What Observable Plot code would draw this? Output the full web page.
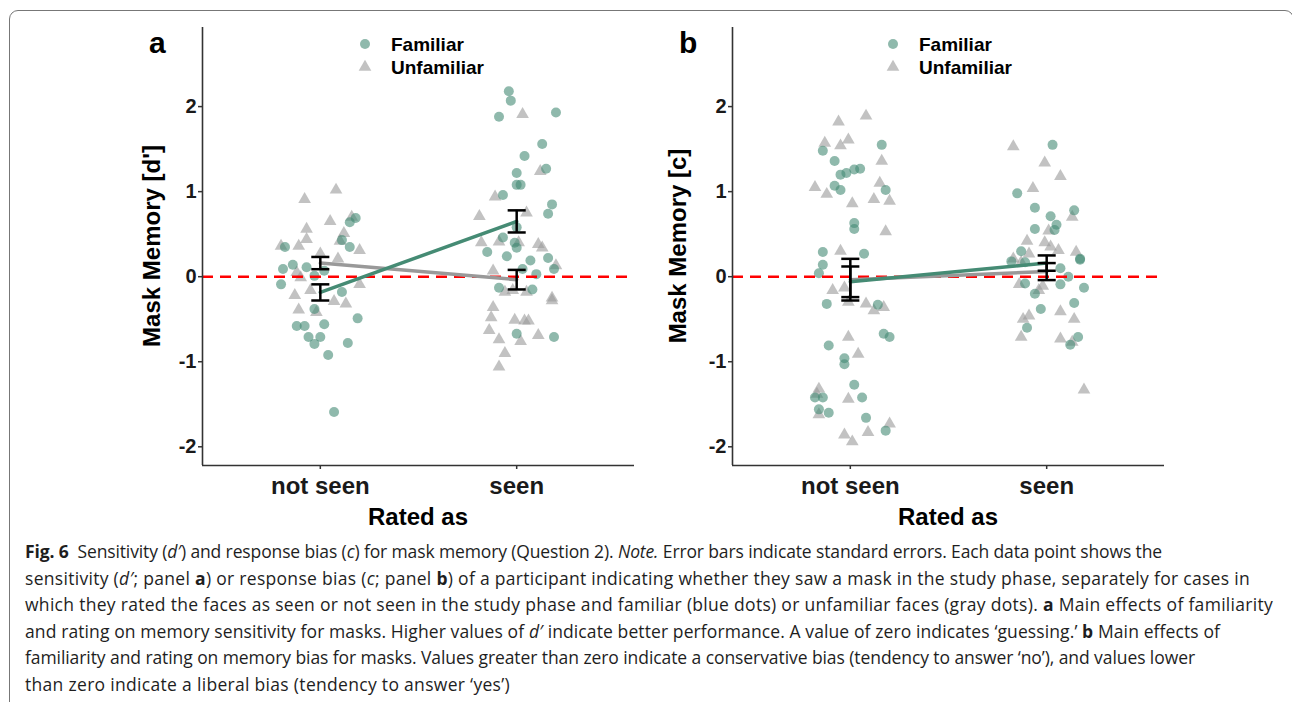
<!DOCTYPE html>
<html>
<head>
<meta charset="utf-8">
<script src="https://cdn.jsdelivr.net/npm/d3@7"></script>
<script src="https://cdn.jsdelivr.net/npm/@observablehq/plot@0.6"></script>
<style>
  html, body { margin: 0; padding: 0; background: #fff; }
  body { width: 1292px; height: 702px; overflow: hidden; position: relative; font-family: "Liberation Sans", Arial, sans-serif; }
  .abs { position: absolute; }
  #box { position: absolute; left: 9px; top: 10px; width: 1285px; height: 720px; box-sizing: border-box; border: 1.5px solid #777; border-radius: 9px; }
  .plotwrap svg text { font-weight: 700; fill: #1a1a1a; }
  .ytitle { position: absolute; font-weight: 700; font-size: 24px; color: #000; white-space: nowrap; transform: translate(-50%, -50%) rotate(-90deg); }
  .xtitle { position: absolute; font-weight: 700; font-size: 24px; color: #000; white-space: nowrap; transform: translateX(-50%); }
  .letter { position: absolute; font-weight: 700; font-size: 30px; color: #000; }
  .legend { position: absolute; }
  .legend text { font-family: "Liberation Sans", Arial, sans-serif; font-weight: 700; font-size: 19px; fill: #000; }
  #caption { position: absolute; left: 25px; top: 538px; font-family: "Open Sans", "Noto Sans", sans-serif; font-size: 17.5px; line-height: 26.5px; color: #1e1e1e; }
  #caption div { white-space: nowrap; display: block; width: max-content; }
</style>
</head>
<body>
<div id="box"></div>

<script>
// ---------------- data ----------------
const ratings = ["not seen", "seen"];
const groups = ["Familiar", "Unfamiliar"];

// Panel a (d'): each point = [jitter (category units), value]
const aFamNotSeen = [[-0.18,0.35],[0.15,0.35],[0.15,0.64],[0.18,0.69],[0.11,0.43],[-0.19,0.09],[-0.14,0.14],[-0.07,0.11],[0.02,0.07],[-0.03,0.01],[-0.20,-0.09],[0.11,-0.18],[-0.03,-0.38],[-0.12,-0.58],[-0.08,-0.58],[0.02,-0.56],[0.19,-0.49],[-0.06,-0.71],[0.0,-0.71],[-0.03,-0.79],[0.14,-0.78],[0.04,-0.92],[0.07,-1.59]];
const aUnfNotSeen = [[-0.08,0.91],[0.08,1.02],[0.05,0.65],[-0.07,0.56],[-0.07,0.44],[0.12,0.51],[0.16,0.70],[0.10,0.42],[-0.20,0.36],[-0.11,0.36],[0.20,0.31],[0.0,0.27],[0.09,0.21],[-0.12,0.05],[-0.10,-0.01],[0.20,-0.09],[-0.13,-0.22],[0.07,-0.29],[0.13,-0.32],[-0.11,-0.39],[-0.02,-0.42],[-0.05,-0.16]];
const aFamSeen = [[-0.04,2.18],[-0.03,2.07],[-0.09,1.88],[0.20,1.93],[0.13,1.56],[0.04,1.42],[0.15,1.27],[0.0,1.22],[0.0,1.08],[0.02,1.08],[-0.07,0.96],[0.18,0.85],[0.16,0.74],[0.0,0.58],[-0.07,0.46],[-0.01,0.40],[0.0,0.34],[-0.15,0.29],[-0.05,0.24],[0.07,0.19],[0.16,0.22],[0.19,0.09],[0.03,0.09],[0.10,0.03],[-0.09,-0.13],[0.08,-0.15],[0.0,-0.67],[0.19,-0.71]];
const aUnfSeen = [[0.03,1.91],[0.12,1.24],[-0.11,0.94],[-0.19,0.71],[0.05,0.75],[-0.18,0.40],[-0.09,0.41],[0.01,0.40],[0.11,0.38],[0.13,0.34],[-0.12,0.07],[0.20,0.13],[-0.06,-0.18],[0.05,-0.18],[-0.02,-0.16],[0.18,-0.25],[0.18,-0.28],[-0.12,-0.36],[-0.13,-0.48],[-0.01,-0.51],[0.04,-0.52],[0.06,-0.52],[-0.14,-0.63],[-0.09,-0.74],[0.02,-0.76],[0.11,-0.69],[-0.06,-0.90],[-0.09,-1.06]];
const aFamMean = [-0.185, 0.65];
const aFamSE   = [0.095, 0.13];
const aUnfMean = [0.16, -0.035];
const aUnfSE   = [0.072, 0.115];

// Panel b (c)
const bFamNotSeen = [[-0.14,1.48],[0.16,1.55],[-0.08,1.36],[-0.05,1.20],[-0.02,1.22],[0.02,1.26],[0.05,1.27],[-0.08,1.07],[-0.05,1.02],[0.18,1.02],[0.02,0.63],[0.02,0.56],[-0.14,0.29],[0.07,0.27],[-0.14,0.14],[-0.16,0.04],[-0.12,-0.32],[0.14,-0.33],[0.17,-0.67],[0.20,-0.71],[-0.11,-0.81],[-0.03,-0.96],[-0.03,-1.03],[0.02,-1.27],[-0.18,-1.42],[-0.14,-1.42],[0.06,-1.42],[-0.16,-1.56],[-0.11,-1.60],[0.08,-1.66],[0.18,-1.81]];
const bUnfNotSeen = [[-0.06,1.82],[0.08,1.89],[-0.13,1.57],[-0.05,1.54],[-0.01,1.61],[0.16,1.36],[-0.18,1.05],[-0.12,0.97],[0.15,1.10],[0.01,0.86],[0.12,0.91],[0.20,0.89],[0.18,0.53],[-0.05,0.30],[-0.09,-0.16],[-0.03,-0.13],[-0.01,-0.30],[0.08,-0.32],[0.12,-0.40],[0.17,-0.36],[-0.01,-0.71],[0.04,-0.91],[-0.16,-1.32],[-0.17,-1.38],[-0.16,-1.62],[-0.01,-1.44],[0.20,-1.73],[-0.03,-1.86],[0.01,-1.94],[0.09,-1.83]];
const bFamSeen = [[0.03,1.55],[-0.15,0.98],[-0.06,0.81],[0.02,0.71],[0.14,0.78],[0.05,0.61],[0.04,0.55],[-0.06,0.56],[-0.13,0.30],[-0.18,0.18],[-0.11,0.17],[0.17,0.21],[0.17,0.20],[0.07,0.10],[0.11,0.0],[0.07,-0.09],[-0.11,-0.08],[-0.06,-0.20],[0.19,-0.13],[0.14,-0.31],[-0.03,-0.38],[-0.10,-0.60],[0.16,-0.71],[0.12,-0.80]];
const bUnfSeen = [[-0.17,1.53],[-0.01,1.34],[0.07,1.18],[-0.07,1.04],[0.13,0.70],[0.01,0.54],[-0.10,0.42],[-0.01,0.40],[0.02,0.35],[0.06,0.31],[0.15,0.29],[-0.17,0.21],[-0.13,0.17],[-0.14,-0.09],[-0.02,-0.11],[-0.04,-0.16],[0.07,-0.41],[0.14,-0.50],[-0.12,-0.50],[-0.09,-0.46],[-0.13,-0.71],[0.07,-0.73],[0.13,-0.77],[0.19,-1.33],[-0.09,0.27]];
const bFamMean = [-0.06, 0.16];
const bFamSE   = [0.18, 0.09];
const bUnfMean = [-0.035, 0.06];
const bUnfSE   = [0.245, 0.10];

const yTicks = [-2, -1, 0, 1, 2];
const yLabels = ["Mask Memory [d']", "Mask Memory [c]"];
const xTitle = "Rated as";
const panelLetters = ["a", "b"];

// ---------------- scales & styles ----------------
const X_DOMAIN = [0.4, 2.6];
const Y_DOMAIN = [-2.22, 2.93];
const GREEN = "#458B74";
const GRAY = "#999999";
const AXIS = "#333333";
const FONT = "'Liberation Sans', Arial, sans-serif";
const CAP = 0.046; // error bar cap half-width, in category units

function rows(arr, cat) { return arr.map(([j, v]) => ({x: cat + j, y: v})); }
function meanRows(m, se, group) { return m.map((v, i) => ({x: i + 1, y: v, lo: v - se[i], hi: v + se[i], group})); }

function makePanel({famNS, famS, unfNS, unfS, famM, famSE, unfM, unfSE, width, marginLeft}) {
  const fam = rows(famNS, 1).concat(rows(famS, 2));
  const unf = rows(unfNS, 1).concat(rows(unfS, 2));
  const fm = meanRows(famM, famSE, groups[0]);
  const um = meanRows(unfM, unfSE, groups[1]);
  const all = fm.concat(um);
  return Plot.plot({
    width, height: 540,
    marginLeft, marginRight: 6, marginTop: 27, marginBottom: 75,
    x: {domain: X_DOMAIN, axis: null},
    y: {domain: Y_DOMAIN, axis: null},
    style: {fontFamily: FONT, background: "transparent", overflow: "visible", color: AXIS},
    marks: [
      Plot.dot(unf, {x: "x", y: "y", symbol: "triangle", r: 4.7, fill: GRAY, fillOpacity: 0.6, stroke: "none"}),
      Plot.dot(fam, {x: "x", y: "y", symbol: "circle", r: 5, fill: GREEN, fillOpacity: 0.6, stroke: "none"}),
      Plot.ruleY([0], {stroke: "#ff0000", strokeWidth: 2.5, strokeDasharray: "11,7"}),
      Plot.line(um, {x: "x", y: "y", stroke: GRAY, strokeWidth: 3.5}),
      Plot.line(fm, {x: "x", y: "y", stroke: GREEN, strokeWidth: 3.5}),
      Plot.ruleX(all, {x: "x", y1: "lo", y2: "hi", stroke: "#000", strokeWidth: 2.5}),
      Plot.link(all, {x1: d => d.x - CAP, x2: d => d.x + CAP, y1: "hi", y2: "hi", stroke: "#000", strokeWidth: 2.5}),
      Plot.link(all, {x1: d => d.x - CAP, x2: d => d.x + CAP, y1: "lo", y2: "lo", stroke: "#000", strokeWidth: 2.5}),
      // axis lines along the scale extents
      Plot.ruleX([X_DOMAIN[0]], {y1: Y_DOMAIN[0], y2: Y_DOMAIN[1], stroke: AXIS, strokeWidth: 1.6}),
      Plot.ruleY([Y_DOMAIN[0]], {x1: X_DOMAIN[0], x2: X_DOMAIN[1], stroke: AXIS, strokeWidth: 1.6}),
      Plot.axisY({ticks: yTicks, tickFormat: d => String(d), tickSize: 4, tickPadding: 2, fontSize: 20, label: null, stroke: AXIS, strokeWidth: 1.5}),
      Plot.axisX({ticks: [1, 2], tickFormat: d => ratings[d - 1], tickSize: 4, tickPadding: 7, fontSize: 24, label: null, stroke: AXIS, strokeWidth: 1.5})
    ]
  });
}

function place(el, left, top) {
  const w = document.createElement("div");
  w.className = "abs plotwrap";
  w.style.left = left + "px"; w.style.top = top + "px";
  w.appendChild(el);
  document.body.appendChild(w);
}

place(makePanel({famNS: aFamNotSeen, famS: aFamSeen, unfNS: aUnfNotSeen, unfS: aUnfSeen,
  famM: aFamMean, famSE: aFamSE, unfM: aUnfMean, unfSE: aUnfSE, width: 640, marginLeft: 202}), 0, 0);
place(makePanel({famNS: bFamNotSeen, famS: bFamSeen, unfNS: bUnfNotSeen, unfS: bUnfSeen,
  famM: bFamMean, famSE: bFamSE, unfM: bUnfMean, unfSE: bUnfSE, width: 530, marginLeft: 92}), 640, 0);

// titles, letters, legends
const panels = [
  {ytx: 152, xtx: 418, letterX: 149, legendX: 352},
  {ytx: 678, xtx: 948, letterX: 679, legendX: 880}
];
panels.forEach((p, i) => {
  const yt = document.createElement("div");
  yt.className = "ytitle"; yt.textContent = yLabels[i];
  yt.style.left = p.ytx + "px"; yt.style.top = "246px";
  document.body.appendChild(yt);

  const xt = document.createElement("div");
  xt.className = "xtitle"; xt.textContent = xTitle;
  xt.style.left = p.xtx + "px"; xt.style.top = "503px";
  document.body.appendChild(xt);

  const lt = document.createElement("div");
  lt.className = "letter"; lt.textContent = panelLetters[i];
  lt.style.left = p.letterX + "px"; lt.style.top = "26px";
  document.body.appendChild(lt);

  const ns = "http://www.w3.org/2000/svg";
  const svg = document.createElementNS(ns, "svg");
  svg.setAttribute("width", 200); svg.setAttribute("height", 60);
  svg.setAttribute("class", "legend");
  svg.style.left = p.legendX + "px"; svg.style.top = "30px";
  const c = document.createElementNS(ns, "circle");
  c.setAttribute("cx", 13); c.setAttribute("cy", 14); c.setAttribute("r", 5);
  c.setAttribute("fill", GREEN); c.setAttribute("fill-opacity", 0.6);
  svg.appendChild(c);
  const tri = document.createElementNS(ns, "path");
  tri.setAttribute("d", d3.symbol(d3.symbolTriangle, Math.PI * 4.7 * 4.7)());
  tri.setAttribute("transform", "translate(13,37)");
  tri.setAttribute("fill", GRAY); tri.setAttribute("fill-opacity", 0.6);
  svg.appendChild(tri);
  groups.forEach((g, k) => {
    const t = document.createElementNS(ns, "text");
    t.setAttribute("x", 39); t.setAttribute("y", 14 + k * 23);
    t.setAttribute("dy", "0.35em");
    t.textContent = g;
    svg.appendChild(t);
  });
  document.body.appendChild(svg);
});
</script>

<div id="caption">
  <div data-w="1137"><b>Fig. 6</b>&nbsp; Sensitivity (<i>d′</i>) and response bias (<i>c</i>) for mask memory (Question 2). <i>Note.</i> Error bars indicate standard errors. Each data point shows the</div>
  <div data-w="1225">sensitivity (<i>d′</i>; panel <b>a</b>) or response bias (<i>c</i>; panel <b>b</b>) of a participant indicating whether they saw a mask in the study phase, separately for cases in</div>
  <div data-w="1248">which they rated the faces as seen or not seen in the study phase and familiar (blue dots) or unfamiliar faces (gray dots). <b>a</b> Main effects of familiarity</div>
  <div data-w="1195">and rating on memory sensitivity for masks. Higher values of <i>d′</i> indicate better performance. A value of zero indicates ‘guessing.’ <b>b</b> Main effects of</div>
  <div data-w="1170">familiarity and rating on memory bias for masks. Values greater than zero indicate a conservative bias (tendency to answer ‘no’), and values lower</div>
  <div data-w="485">than zero indicate a liberal bias (tendency to answer ‘yes’)</div>
</div>
<script>
// fit each caption line to the width it occupies in the original typesetting
document.querySelectorAll("#caption div").forEach(div => {
  const target = +div.dataset.w;
  const w = div.getBoundingClientRect().width;
  const n = div.textContent.length;
  div.style.letterSpacing = ((target - w) / n).toFixed(3) + "px";
});
</script>
</body>
</html>
